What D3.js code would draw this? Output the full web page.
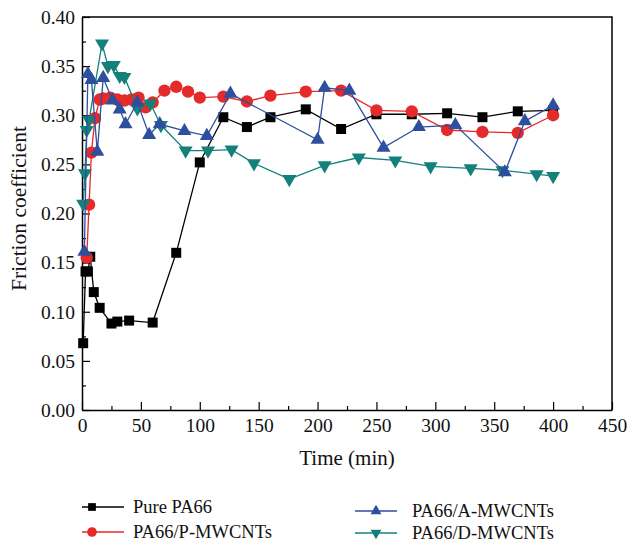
<!DOCTYPE html>
<html>
<head>
<meta charset="utf-8">
<script src="https://cdn.jsdelivr.net/npm/d3@7"></script>
<style>
  body { margin: 0; background: #fff; }
  svg text { font-family: "Liberation Serif", "Times New Roman", serif; fill: #111; }
</style>
</head>
<body>
<svg id="chart" width="630" height="545"></svg>
<script>
// values
const seriesNames = ["Pure PA66", "PA66/P-MWCNTs", "PA66/A-MWCNTs", "PA66/D-MWCNTs"];

const pureTime  = [1, 3, 5, 7, 10, 15, 25, 30, 40, 60, 80, 100, 120, 140, 160, 190, 220, 250, 280, 310, 340, 370, 400];
const pureValue = [0.068, 0.141, 0.141, 0.156, 0.120, 0.104, 0.088, 0.090, 0.091, 0.089, 0.160, 0.252, 0.298, 0.288, 0.298, 0.306, 0.286, 0.301, 0.301, 0.302, 0.298, 0.304, 0.305];

const redTime  = [4, 6, 8, 11, 15, 18, 24, 30, 36, 42, 48, 54, 60, 70, 80, 90, 100, 120, 140, 160, 190, 220, 250, 280, 310, 340, 370, 400];
const redValue = [0.155, 0.209, 0.262, 0.297, 0.316, 0.317, 0.318, 0.316, 0.315, 0.316, 0.318, 0.308, 0.313, 0.325, 0.329, 0.324, 0.318, 0.319, 0.314, 0.320, 0.324, 0.325, 0.305, 0.304, 0.285, 0.283, 0.282, 0.300];

const blueTime  = [2, 5, 8, 13, 18, 26, 32, 37, 47, 57, 66, 87, 106, 126, 200, 206, 227, 256, 286, 317, 359, 376, 400];
const blueValue = [0.161, 0.342, 0.336, 0.263, 0.338, 0.315, 0.306, 0.291, 0.313, 0.280, 0.291, 0.284, 0.279, 0.322, 0.275, 0.328, 0.325, 0.267, 0.288, 0.290, 0.242, 0.294, 0.310];

const greenTime  = [1, 2.5, 4, 6, 17, 22, 27, 32, 36, 47, 58, 67, 88, 107, 127, 146, 176, 206, 235, 266, 296, 330, 357, 386, 400];
const greenValue = [0.210, 0.241, 0.285, 0.295, 0.373, 0.350, 0.351, 0.340, 0.339, 0.307, 0.312, 0.290, 0.264, 0.264, 0.265, 0.251, 0.235, 0.249, 0.257, 0.254, 0.248, 0.246, 0.244, 0.240, 0.238];

const xTicks = [0, 50, 100, 150, 200, 250, 300, 350, 400, 450];
const yTicks = [0, 0.05, 0.10, 0.15, 0.20, 0.25, 0.30, 0.35, 0.40];

const mLeft = 82, mRight = 612, mTop = 17, mBottom = 410;

let svg = d3.select("#chart");

let x = d3.scaleLinear().domain([0, 450]).range([mLeft, mRight]);
let y = d3.scaleLinear().domain([0, 0.4]).range([mBottom, mTop]);

// minor ticks
let xMinor = d3.range(25, 450, 50);
let yMinor = d3.range(0.025, 0.4, 0.05);

svg.append("g")
   .attr("transform", `translate(0,${mBottom})`)
   .call(d3.axisBottom(x).tickValues(xMinor).tickSize(-4).tickFormat(""))
   .call(g => g.select(".domain").remove());
svg.append("g")
   .attr("transform", `translate(${mLeft},0)`)
   .call(d3.axisLeft(y).tickValues(yMinor).tickSize(-4).tickFormat(""))
   .call(g => g.select(".domain").remove());

let xAxis = svg.append("g")
   .attr("transform", `translate(0,${mBottom})`)
   .call(d3.axisBottom(x).tickValues(xTicks).tickSize(-8).tickSizeOuter(0).tickPadding(8).tickFormat(d3.format("d")));
let yAxis = svg.append("g")
   .attr("transform", `translate(${mLeft},0)`)
   .call(d3.axisLeft(y).tickValues(yTicks).tickSize(-8).tickSizeOuter(0).tickPadding(7).tickFormat(d3.format(".2f")));

[xAxis, yAxis].forEach(g => {
	g.selectAll("text").style("font-size", "19.5px").style("font-family", "Liberation Serif");
	g.select(".domain").attr("stroke-width", 1.5);
});
svg.selectAll(".tick line").attr("stroke-width", 1.2);

// frame top & right
svg.append("path")
   .attr("d", `M${mLeft},${mTop}H${mRight}V${mBottom}`)
   .attr("fill", "none")
   .attr("stroke", "#000")
   .attr("stroke-width", 1.5);

// axis titles
svg.append("text")
   .attr("x", (mLeft + mRight) / 2)
   .attr("y", 465)
   .attr("text-anchor", "middle")
   .style("font-size", "21px")
   .text("Time (min)");
svg.append("text")
   .attr("transform", `translate(26,${(mTop + mBottom) / 2 - 5}) rotate(-90)`)
   .attr("text-anchor", "middle")
   .style("font-size", "21.5px")
   .text("Friction coefficient");

let series = [
	{name: seriesNames[0], t: pureTime,  v: pureValue,  color: "#000000", symbol: d3.symbolSquare,   size: 100, rot: 0},
	{name: seriesNames[1], t: redTime,   v: redValue,   color: "#e42a2a", symbol: d3.symbolCircle,   size: 120, rot: 0},
	{name: seriesNames[3], t: greenTime, v: greenValue, color: "#14807a", symbol: d3.symbolTriangle, size: 85,  rot: 180},
	{name: seriesNames[2], t: blueTime,  v: blueValue,  color: "#2d4f9e", symbol: d3.symbolTriangle, size: 85,  rot: 0}
];

let line = d3.line().x(d => x(d[0])).y(d => y(d[1]));

series.forEach(s => {
	let pts = s.t.map((t, i) => [t, s.v[i]]);
	let g = svg.append("g");
	g.append("path")
	 .attr("d", line(pts))
	 .attr("fill", "none")
	 .attr("stroke", s.color)
	 .attr("stroke-width", 1.3);
	g.selectAll("path.mark")
	 .data(pts)
	 .enter()
	 .append("path")
	 .attr("class", "mark")
	 .attr("d", d3.symbol().type(s.symbol).size(s.size))
	 .attr("transform", d => `translate(${x(d[0])},${y(d[1])}) rotate(${s.rot})`)
	 .attr("fill", s.color);
});

// legend
let legendItems = [
	{s: series[0], x: 82,  y: 507},
	{s: series[1], x: 82,  y: 532},
	{s: series[3], x: 355, y: 511},
	{s: series[2], x: 355, y: 533}
];
let leg = svg.selectAll("g.leg")
   .data(legendItems)
   .enter()
   .append("g")
   .attr("class", "leg")
   .attr("transform", d => `translate(${d.x},${d.y})`);
leg.append("line")
   .attr("x1", 0).attr("x2", 42)
   .attr("stroke", d => d.s.color)
   .attr("stroke-width", 1.3);
leg.append("path")
   .attr("d", d => d3.symbol().type(d.s.symbol).size(d.s.size * 0.6)())
   .attr("transform", d => `translate(${d.x < 200 ? 10 : 21},0) rotate(${d.s.rot})`)
   .attr("fill", d => d.s.color);
leg.append("text")
   .attr("x", d => d.x < 200 ? 51 : 57)
   .attr("dy", "0.35em")
   .style("font-size", "18.5px")
   .text(d => d.s.name);
</script>
</body>
</html>
